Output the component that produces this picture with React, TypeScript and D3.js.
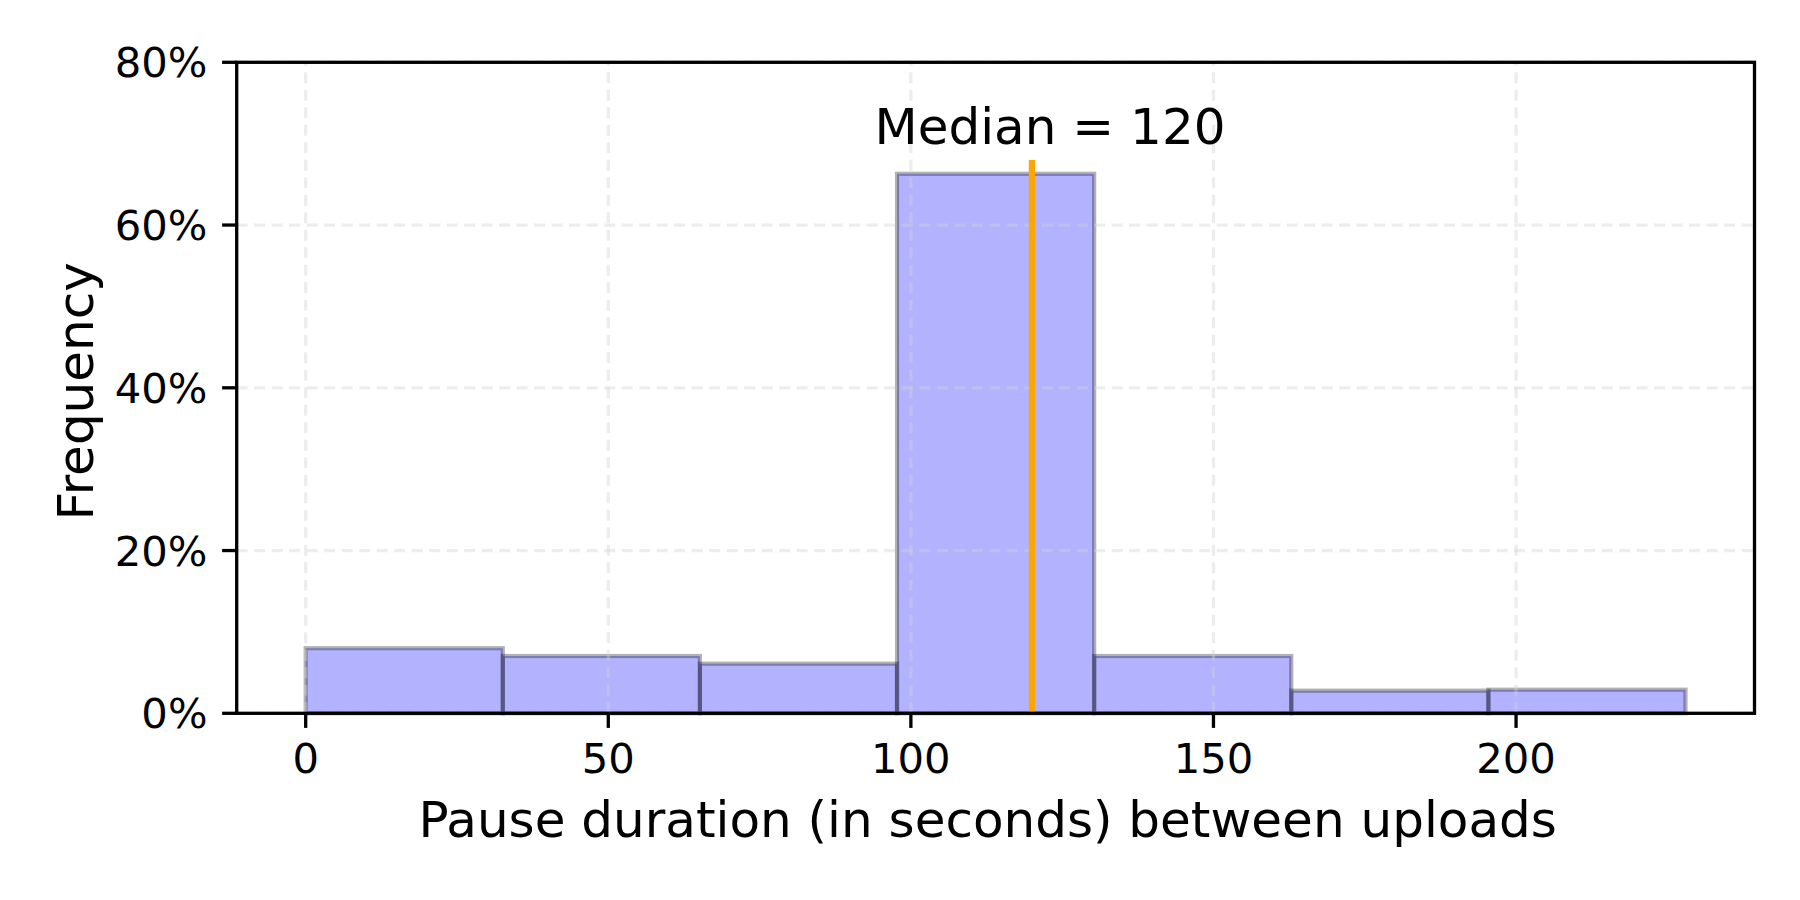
import React from "react";
import * as d3 from "d3";

const binEdges = [0, 32.57, 65.14, 97.71, 130.29, 162.86, 195.43, 228];
const frequencies = [8.0, 7.04, 6.1, 66.3, 7.04, 2.78, 2.9];
const xTicks = [0, 50, 100, 150, 200];
const yTicks = [0, 20, 40, 60, 80];
const medianValue = 120;
const medianLineTop = 68;
const medianLabel = "Median = 120";
const medianLabelPos = [123, 70];
const xLabel = "Pause duration (in seconds) between uploads";
const yLabel = "Frequency";

const W = 1800;
const H = 900;
const left = 236.7;
const right = 1754.5;
const top = 62.3;
const bottom = 713.3;
const font = "DejaVu Sans, sans-serif";

export default function App() {
  const x = d3.scaleLinear().domain([-11.4, 239.4]).range([left, right]);
  const y = d3.scaleLinear().domain([0, 80]).range([bottom, top]);
  const bins = frequencies.map((f, i) => ({ x0: binEdges[i], x1: binEdges[i + 1], f }));

  return (
    <svg
      width={W}
      height={H}
      style={{ position: "absolute", left: 0, top: 0, background: "#fff" }}
      fontFamily={font}
    >
      <rect x={0} y={0} width={W} height={H} fill="#fff" />
      {/* bars */}
      {bins.map((b, i) => (
        <rect
          key={i}
          x={x(b.x0)}
          y={y(b.f)}
          width={x(b.x1) - x(b.x0)}
          height={y(0) - y(b.f)}
          fill="blue"
          fillOpacity={0.3}
          stroke="black"
          strokeOpacity={0.3}
          strokeWidth={4.2}
        />
      ))}
      {/* grid */}
      {xTicks.map((t) => (
        <line
          key={"gx" + t}
          x1={x(t)}
          x2={x(t)}
          y1={bottom}
          y2={top}
          stroke="lightgray"
          strokeOpacity={0.4}
          strokeWidth={3.3}
          strokeDasharray="11 6.5"
        />
      ))}
      {yTicks.map((t) => (
        <line
          key={"gy" + t}
          x1={left}
          x2={right}
          y1={y(t)}
          y2={y(t)}
          stroke="lightgray"
          strokeOpacity={0.4}
          strokeWidth={3.3}
          strokeDasharray="11 6.5"
        />
      ))}
      {/* median line */}
      <line
        x1={x(medianValue)}
        x2={x(medianValue)}
        y1={y(0)}
        y2={y(medianLineTop)}
        stroke="orange"
        strokeWidth={6.25}
      />
      <text
        x={x(medianLabelPos[0])}
        y={y(medianLabelPos[1])}
        textAnchor="middle"
        fontSize={50}
        fill="#000"
      >
        {medianLabel}
      </text>
      {/* spines */}
      <rect
        x={left}
        y={top}
        width={right - left}
        height={bottom - top}
        fill="none"
        stroke="#000"
        strokeWidth={3.3}
      />
      {/* x ticks */}
      {xTicks.map((t) => (
        <g key={"xt" + t}>
          <line x1={x(t)} x2={x(t)} y1={bottom} y2={bottom + 14.6} stroke="#000" strokeWidth={3.3} />
          <text x={x(t)} y={bottom + 14.6 + 14.6 + 30.4} textAnchor="middle" fontSize={41.7} fill="#000">
            {t}
          </text>
        </g>
      ))}
      {/* y ticks */}
      {yTicks.map((t) => (
        <g key={"yt" + t}>
          <line x1={left - 14.6} x2={left} y1={y(t)} y2={y(t)} stroke="#000" strokeWidth={3.3} />
          <text
            x={left - 14.6 - 14.6}
            y={y(t)}
            dy="0.36em"
            textAnchor="end"
            fontSize={41.7}
            fill="#000"
          >
            {t + "%"}
          </text>
        </g>
      ))}
      <text x={(left + right) / 2 - 8} y={836.7} textAnchor="middle" fontSize={50} fill="#000">
        {xLabel}
      </text>
      <text
        transform={`translate(93.3, ${(top + bottom) / 2 + 3.5}) rotate(-90)`}
        textAnchor="middle"
        fontSize={50}
        fill="#000"
      >
        {yLabel}
      </text>
    </svg>
  );
}
